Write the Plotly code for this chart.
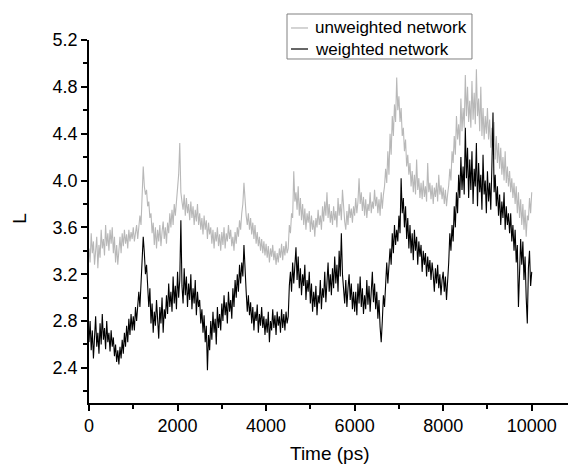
import plotly.graph_objects as go

# time samples (ps), every 25 ps
time_ps = list(range(0, 10001, 25))

unweighted_L = [
    3.42, 3.30, 3.55, 3.38, 3.48, 3.28, 3.40, 3.52, 3.25, 3.45, 3.34, 3.58, 3.42, 3.50, 3.36, 3.62, 3.44, 3.55, 3.40, 3.58,
    3.46, 3.60, 3.38, 3.52, 3.30, 3.45, 3.28, 3.42, 3.52, 3.38, 3.55, 3.44, 3.58, 3.46, 3.54, 3.42, 3.58, 3.48, 3.56, 3.50,
    3.60, 3.48, 3.55, 3.62, 3.50, 3.58, 3.70, 3.62, 3.85, 4.12, 3.95, 3.88, 3.92, 3.78, 3.82, 3.68, 3.72, 3.55, 3.64, 3.45,
    3.60, 3.42, 3.58, 3.48, 3.62, 3.44, 3.56, 3.65, 3.50, 3.60, 3.46, 3.64, 3.55, 3.72, 3.60, 3.75, 3.62, 3.80, 3.70, 3.85,
    3.95, 4.05, 4.32, 3.90, 3.82, 3.75, 3.88, 3.70, 3.85, 3.72, 3.80, 3.66, 3.82, 3.68, 3.78, 3.62, 3.75, 3.65, 3.80, 3.62,
    3.72, 3.58, 3.68, 3.54, 3.70, 3.58, 3.66, 3.50, 3.64, 3.54, 3.60, 3.46, 3.58, 3.42, 3.56, 3.48, 3.60, 3.44, 3.54, 3.40,
    3.56, 3.45, 3.60, 3.42, 3.55, 3.48, 3.62, 3.50, 3.58, 3.44, 3.52, 3.40, 3.56, 3.46, 3.60, 3.52, 3.66, 3.58, 3.72, 3.80,
    3.98, 3.78, 3.70, 3.62, 3.72, 3.58, 3.68, 3.54, 3.64, 3.50, 3.62, 3.46, 3.56, 3.44, 3.52, 3.40, 3.50, 3.38, 3.48, 3.36,
    3.46, 3.34, 3.44, 3.30, 3.42, 3.35, 3.45, 3.32, 3.40, 3.28, 3.38, 3.30, 3.42, 3.34, 3.46, 3.32, 3.44, 3.36, 3.48, 3.38,
    3.42, 3.62, 3.55, 3.72, 3.68, 4.08, 3.82, 3.90, 3.75, 3.95, 3.70, 3.85, 3.66, 3.80, 3.62, 3.76, 3.58, 3.72, 3.64, 3.74,
    3.56, 3.70, 3.58, 3.66, 3.52, 3.68, 3.60, 3.75, 3.62, 3.70, 3.58, 3.78, 3.65, 3.82, 3.70, 3.90, 3.68, 3.80, 3.64, 3.74,
    3.62, 3.78, 3.66, 3.74, 3.60, 3.85, 3.70, 3.80, 3.66, 3.92, 3.72, 3.65, 3.58, 3.74, 3.62, 3.80, 3.68, 3.76, 3.64, 3.78,
    3.70, 3.85, 3.72, 3.82, 4.02, 3.80, 3.90, 3.74, 3.86, 3.70, 3.84, 3.68, 3.80, 3.74, 3.90, 3.72, 3.82, 3.76, 3.92, 3.78,
    3.86, 3.72, 3.84, 3.70, 3.90, 3.76, 3.88, 3.95, 4.10, 3.98, 4.25, 4.05, 4.40, 4.22, 4.55, 4.38, 4.65, 4.50, 4.88, 4.60,
    4.72, 4.50, 4.62, 4.38, 4.45, 4.25, 4.35, 4.12, 4.22, 4.05, 4.15, 3.95, 4.08, 3.90, 4.05, 3.88, 4.18, 3.92, 4.02, 3.85,
    3.98, 3.84, 4.00, 3.86, 3.95, 3.82, 4.15, 3.90, 3.98, 3.84, 3.96, 3.80, 3.94, 3.86, 3.98, 3.82, 4.05, 3.88, 3.96, 3.84,
    3.94, 3.80, 3.92, 3.78, 3.88, 3.96, 4.10, 4.00, 4.25, 4.15, 4.38, 4.22, 4.55, 4.35, 4.48, 4.30, 4.70, 4.42, 4.62, 4.45,
    4.90, 4.55, 4.80, 4.50, 4.68, 4.45, 4.85, 4.52, 4.75, 4.48, 4.95, 4.55, 4.70, 4.42, 4.80, 4.38, 4.62, 4.35, 4.55, 4.40,
    4.62, 4.35, 4.52, 4.28, 4.45, 4.22, 4.50, 4.18, 4.38, 4.15, 4.32, 4.10, 4.28, 4.05, 4.20, 4.00, 4.25, 3.98, 4.12, 3.95,
    4.08, 3.90, 4.02, 3.85, 3.98, 3.80, 3.95, 3.72, 3.90, 3.68, 3.84, 3.62, 3.80, 3.58, 3.75, 3.52, 3.70, 3.66, 3.85, 3.72,
    3.90,
]

weighted_L = [
    2.62, 2.80, 2.55, 2.72, 2.48, 2.66, 2.84, 2.58, 2.70, 2.52, 2.78, 2.60, 2.86, 2.64, 2.74, 2.56, 2.80, 2.62, 2.70, 2.54,
    2.72, 2.58, 2.66, 2.50, 2.60, 2.45, 2.55, 2.43, 2.58, 2.48, 2.64, 2.52, 2.70, 2.58, 2.76, 2.62, 2.82, 2.68, 2.86, 2.72,
    2.84, 2.72, 2.92, 2.80, 2.96, 3.05, 2.92, 3.15, 3.30, 3.52, 3.38, 3.20, 3.28, 3.05, 2.92, 3.08, 2.78, 2.95, 2.70, 2.88,
    2.76, 2.98, 2.82, 2.65, 2.92, 2.78, 3.00, 2.70, 2.90, 2.82, 3.02, 2.86, 3.12, 2.92, 3.05, 2.88, 3.18, 2.95, 3.10, 2.90,
    3.22, 3.00, 3.15, 3.66, 3.10, 2.95, 3.25, 3.02, 3.18, 2.92, 3.12, 2.98, 3.20, 2.90, 3.08, 2.95, 3.15, 2.85, 3.05, 2.92,
    2.98, 2.78, 2.90, 2.70, 2.85, 2.62, 2.76, 2.38, 2.68, 2.55, 2.80, 2.64, 2.88, 2.70, 2.82, 2.60, 2.92, 2.74, 2.86, 2.72,
    2.95, 2.80, 3.02, 2.85, 2.96, 2.78, 3.05, 2.88, 2.98, 2.82, 3.08, 2.92, 3.15, 3.00, 3.20, 3.05, 3.28, 3.12, 3.30, 3.18,
    3.45, 3.15, 3.05, 2.88, 3.02, 2.85, 2.96, 2.78, 2.92, 2.72, 2.88, 2.80, 2.94, 2.70, 2.86, 2.76, 2.92, 2.74, 2.84, 2.68,
    2.82, 2.70, 2.88, 2.62, 2.80, 2.72, 2.90, 2.74, 2.85, 2.68, 2.88, 2.76, 2.84, 2.70, 2.90, 2.74, 2.86, 2.72, 2.88, 2.78,
    2.84, 3.10, 3.22, 3.05, 3.30, 3.12, 3.28, 3.43, 3.15, 3.35, 3.08, 3.25, 3.02, 3.20, 3.10, 3.28, 2.98, 3.15, 3.05, 3.22,
    2.95, 3.12, 2.88, 3.05, 2.92, 3.10, 2.85, 3.02, 2.95, 3.15, 2.90, 3.08, 3.00, 3.22, 2.96, 3.12, 3.30, 3.05, 3.20, 3.02,
    3.25, 3.08, 3.35, 3.12, 3.28, 3.05, 3.40, 3.18, 3.55, 3.20, 3.10, 2.95, 3.15, 2.92, 3.08, 3.20, 2.98, 3.12, 2.90, 3.05,
    2.88, 3.05, 2.85, 3.12, 2.95, 3.18, 2.92, 3.08, 2.86, 3.02, 2.90, 3.15, 2.94, 3.10, 2.88, 3.05, 3.22, 2.96, 3.12, 2.90,
    3.05, 2.82, 2.98, 2.75, 2.62, 2.80, 3.02, 2.92, 3.15, 3.30, 3.12, 3.25, 3.42, 3.28, 3.55, 3.38, 3.62, 3.45, 3.58, 3.48,
    3.70, 3.55, 4.02, 3.72, 3.85, 3.60, 3.78, 3.50, 3.68, 3.42, 3.62, 3.38, 3.55, 3.32, 3.58, 3.40, 3.52, 3.28, 3.48, 3.35,
    3.45, 3.22, 3.40, 3.28, 3.38, 3.18, 3.35, 3.22, 3.32, 3.15, 3.30, 3.20, 3.05, 3.25, 3.12, 3.28, 3.08, 3.20, 3.02, 3.15,
    3.22, 3.05, 3.18, 2.98, 3.12, 3.30, 3.55, 3.40, 3.62, 3.48, 3.78, 3.60, 3.90, 3.72, 4.05, 3.85, 4.20, 3.92, 4.12, 3.88,
    4.45, 4.02, 4.28, 3.85, 4.18, 3.92, 4.25, 3.80, 4.10, 3.95, 4.32, 3.78, 4.15, 3.90, 4.05, 3.75, 4.22, 3.88, 4.00, 3.72,
    4.08, 3.82, 3.98, 3.75, 4.12, 4.58, 3.90, 4.05, 3.78, 3.95, 3.70, 3.88, 3.62, 3.82, 3.68, 3.90, 3.58, 3.78, 3.62, 3.72,
    3.55, 3.72, 3.48, 3.62, 3.40, 3.58, 3.30, 3.45, 2.92, 3.35, 3.50, 3.28, 3.48, 3.15, 3.35, 3.00, 2.78, 3.25, 3.40, 3.10,
    3.22,
]

series_names = ["unweighted network", "weighted network"]
series_colors = ["#b8b8b8", "#000000"]

x_ticks = [0, 2000, 4000, 6000, 8000, 10000]
y_ticks = [2.4, 2.8, 3.2, 3.6, 4.0, 4.4, 4.8, 5.2]

FONT = "Arial, Liberation Sans, sans-serif"

fig = go.Figure()
for name, vals, col in zip(series_names, [unweighted_L, weighted_L], series_colors):
    fig.add_trace(go.Scatter(
        x=time_ps, y=vals, mode="lines", name=name,
        line=dict(color=col, width=1.1), showlegend=False,
    ))

axis_common = dict(
    showline=True, linecolor="black", linewidth=1.5,
    ticks="outside", ticklen=6, tickwidth=1.5, tickcolor="black",
    showgrid=False, zeroline=False, mirror=False, automargin=False,
    tickfont=dict(family=FONT, size=18, color="black"),
)

fig.update_xaxes(
    range=[0, 11000], tickvals=x_ticks, ticktext=[str(v) for v in x_ticks],
    minor=dict(dtick=1000, tick0=0, ticks="outside", ticklen=4, tickwidth=1.5, tickcolor="black"),
    **axis_common,
)
fig.update_yaxes(
    range=[2.1, 5.2], tickvals=y_ticks, ticktext=[f"{v:.1f}" for v in y_ticks],
    minor=dict(dtick=0.2, tick0=2.2, ticks="outside", ticklen=4, tickwidth=1.5, tickcolor="black"),
    **axis_common,
)

fig.add_annotation(text="Time (ps)", xref="paper", yref="paper", x=0.495, y=-0.138,
                   showarrow=False, xanchor="center", yanchor="middle",
                   font=dict(family=FONT, size=19, color="black"))
fig.add_annotation(text="L", xref="paper", yref="paper", x=-0.1417, y=0.51,
                   showarrow=False, xanchor="center", yanchor="middle", textangle=-90,
                   font=dict(family=FONT, size=19, color="black"))

# legend box drawn in paper coordinates
fig.add_shape(type="rect", xref="paper", yref="paper", x0=0.4066, x1=0.7864, y0=0.9477, y1=1.0716,
              line=dict(color="#808080", width=1), fillcolor="white", layer="above")
legend_rows_y = [1.0331, 0.9752]
for name, col, ly in zip(series_names, series_colors, legend_rows_y):
    fig.add_shape(type="line", xref="paper", yref="paper", x0=0.4148, x1=0.4497, y0=ly, y1=ly,
                  line=dict(color=col, width=1.2), layer="above")
    fig.add_annotation(text=name, xref="paper", yref="paper", x=0.46, y=ly,
                       showarrow=False, xanchor="left", yanchor="middle",
                       font=dict(family=FONT, size=17, color="black"))

fig.update_layout(
    width=568, height=456,
    margin=dict(l=81, r=0, t=32, b=61, autoexpand=False),
    paper_bgcolor="white", plot_bgcolor="white",
    showlegend=False,
)

fig.write_html("out.html")
